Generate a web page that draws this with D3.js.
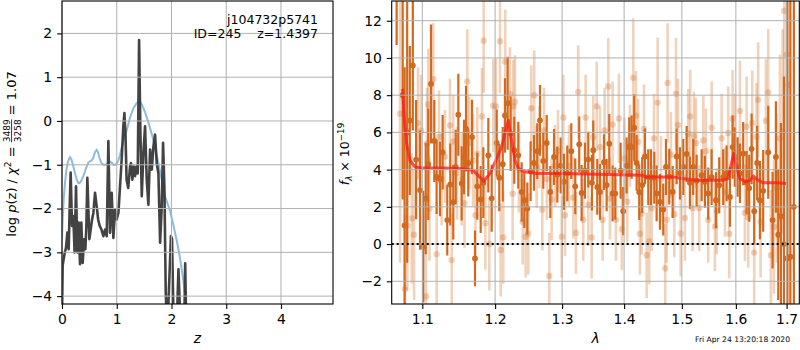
<!DOCTYPE html>
<html><head><meta charset="utf-8">
<script src="https://cdn.jsdelivr.net/npm/d3@7"></script>
<style>body{margin:0;background:#fff}svg{display:block;font-family:"DejaVu Sans",sans-serif}</style>
</head><body><svg id="c" width="800" height="350"></svg>
<script>
// ---------- left panel: p(z) ----------
const priorZ = [0, 0.012, 0.03, 0.055, 0.08, 0.1, 0.125, 0.146, 0.17, 0.207, 0.24, 0.268, 0.3, 0.317, 0.35, 0.39, 0.44, 0.48, 0.51, 0.54, 0.57, 0.6, 0.634, 0.66, 0.683, 0.72, 0.756, 0.8, 0.847, 0.88, 0.908, 0.94, 0.969, 1.0, 1.03, 1.06, 1.09, 1.13, 1.18, 1.243, 1.3, 1.36, 1.408, 1.45, 1.517, 1.58, 1.64, 1.7, 1.761, 1.82, 1.883, 1.93, 1.974, 2.02, 2.065, 2.11, 2.157, 2.2, 2.248, 2.28, 2.32];
const priorLogP = [-2.7, -2.25, -1.8, -1.41, -1.12, -0.98, -0.87, -0.83, -0.87, -1.04, -1.2, -1.34, -1.42, -1.42, -1.37, -1.26, -1.08, -0.95, -0.92, -0.9, -0.85, -0.72, -0.66, -0.72, -0.84, -0.96, -1.0, -1.0, -0.97, -0.93, -0.95, -1.0, -1.0, -0.97, -0.89, -0.78, -0.6, -0.42, -0.22, 0.08, 0.28, 0.4, 0.45, 0.4, 0.2, -0.04, -0.3, -0.6, -0.96, -1.33, -1.72, -1.9, -2.05, -2.3, -2.55, -2.82, -3.14, -3.5, -3.95, -4.3, -4.8];
const pzZ = [0.0, 0.012, 0.024, 0.05, 0.073, 0.098, 0.122, 0.14, 0.158, 0.183, 0.207, 0.23, 0.256, 0.28, 0.305, 0.329, 0.353, 0.378, 0.402, 0.427, 0.445, 0.463, 0.5, 0.524, 0.549, 0.573, 0.603, 0.634, 0.66, 0.69, 0.72, 0.756, 0.786, 0.817, 0.847, 0.877, 0.908, 0.938, 0.969, 0.999, 1.03, 1.06, 1.09, 1.12, 1.14, 1.16, 1.18, 1.21, 1.243, 1.26, 1.286, 1.31, 1.335, 1.36, 1.383, 1.408, 1.432, 1.457, 1.487, 1.517, 1.548, 1.578, 1.609, 1.64, 1.67, 1.7, 1.73, 1.761, 1.792, 1.822, 1.846, 1.87, 1.895, 1.913, 1.94, 1.99, 2.01, 2.035, 2.065, 2.1, 2.127, 2.16, 2.2, 2.236, 2.25, 2.267];
const pzLogP = [-4.5, -3.31, -3.2, -3.01, -2.9, -2.55, -2.93, -2.0, -1.18, -2.4, -2.17, -3.0, -1.49, -3.0, -2.32, -3.27, -2.32, -3.24, -2.7, -2.93, -2.4, -1.3, -2.7, -2.48, -2.25, -2.1, -1.64, -1.95, -2.25, -2.4, -2.48, -2.63, -2.48, -2.63, -0.46, -2.55, -1.64, -2.67, -2.02, -2.25, -2.1, -1.49, -0.88, -0.12, 0.18, -0.35, -1.34, -1.53, -1.04, -0.96, -1.34, -1.04, -1.26, -1.04, -1.2, 1.85, -0.28, -1.72, -0.73, -0.12, -1.34, -1.91, -0.65, -1.11, -0.58, -0.31, -0.96, -1.2, -2.78, -1.95, -0.5, -1.49, -3.92, -4.5, -4.3, -2.63, -2.7, -4.4, -4.5, -4.5, -3.39, -4.5, -4.5, -4.5, -3.25, -4.5];
const zTicks = [0, 1, 2, 3, 4];
const logpTicks = [-4, -3, -2, -1, 0, 1, 2];

// ---------- right panel: spectrum ----------
const darkLam = [1.0668, 1.0745, 1.0770, 1.0803, 1.0837, 1.0876, 1.0919, 1.0970, 1.1013, 1.1045, 1.1079, 1.1115, 1.1159, 1.1190, 1.1235, 1.1271, 1.1333, 1.1374, 1.1415, 1.1448, 1.1484, 1.1530, 1.1562, 1.1590, 1.1621, 1.1673, 1.1715, 1.1747, 1.1795, 1.1832, 1.1903, 1.1951, 1.2023, 1.2060, 1.2110, 1.2142, 1.2181, 1.2225, 1.2278, 1.2337, 1.2387, 1.2426, 1.2471, 1.2520, 1.2570, 1.2620, 1.2661, 1.2711, 1.2763, 1.2818, 1.2875, 1.2926, 1.2978, 1.3029, 1.3081, 1.3143, 1.3206, 1.3269, 1.3307, 1.3360, 1.3413, 1.3472, 1.3493, 1.3558, 1.3602, 1.3667, 1.3711, 1.3754, 1.3809, 1.3852, 1.3942, 1.3985, 1.4042, 1.4086, 1.4126, 1.4170, 1.4211, 1.4255, 1.4306, 1.4353, 1.4410, 1.4456, 1.4514, 1.4555, 1.4612, 1.4670, 1.4718, 1.4776, 1.4836, 1.4907, 1.4966, 1.5025, 1.5086, 1.5145, 1.5205, 1.5267, 1.5359, 1.5419, 1.5480, 1.5543, 1.5624, 1.5685, 1.5760, 1.5824, 1.5887, 1.5938, 1.5982, 1.6034, 1.6078, 1.6141, 1.6207, 1.6257, 1.6304, 1.6354, 1.6413, 1.6466, 1.6531, 1.6631, 1.6718, 1.6784, 1.6831, 1.6885, 1.6946, 1.7013, 1.7077, 1.7148];
const darkFlux = [13.6, 8.0, 1.0, 6.0, 6.64, 9.6, 4.54, 2.9, -0.14, 2.45, 4.29, 8.6, 5.54, 3.61, 3.5, 4.93, 1.29, 3.2, 2.25, 4.14, 6.95, 3.26, 4.68, 6.2, 4.36, 5.75, -0.77, 3.1, 2.4, 3.3, 4.77, 2.46, 5.43, 3.57, 4.29, 6.91, 7.57, 5.93, 5.04, 4.77, 2.8, 2.36, 1.91, 3.92, 4.36, 4.99, 6.65, 4.47, 5.43, 2.8, 4.68, 3.74, 4.22, 3.35, 3.8, 4.99, 3.1, 5.36, 2.75, 3.94, 4.54, 3.3, 5.04, 3.07, 2.8, 4.4, 3.17, 5.39, 2.72, 2.72, 3.94, 1.77, 4.22, 5.21, 5.21, 6.25, 4.36, 2.79, 3.17, 4.71, 3.6, 3.6, 3.56, 2.72, 2.27, 1.86, 4.14, 3.62, 2.8, 4.71, 3.8, 4.14, 4.84, 3.3, 4.14, 3.4, 3.7, 3.35, 2.72, 3.6, 2.36, 3.16, 3.6, 3.8, 2.53, 5.21, 4.68, 4.14, 3.8, 4.86, 3.3, 3.0, 5.12, 1.77, 4.36, 2.36, 2.86, 4.93, 1.29, 4.68, 0.5, 1.5, 0.0, -0.77, -0.68, 2.0];
const darkErr = [2.9, 5.6, 8.5, 7.0, 4.0, 3.5, 3.2, 3.2, 3.0, 3.0, 3.0, 3.2, 2.2, 2.0, 2.0, 2.0, 1.9, 2.2, 2.0, 2.0, 2.2, 2.0, 2.0, 2.3, 1.8, 2.0, 1.5, 1.8, 1.8, 1.9, 2.0, 1.8, 1.8, 1.8, 2.0, 2.0, 2.5, 2.0, 1.8, 1.8, 1.6, 1.5, 1.4, 1.6, 1.5, 1.5, 1.9, 1.5, 1.5, 1.4, 1.5, 1.5, 1.5, 1.5, 1.5, 1.5, 1.5, 1.5, 1.5, 1.5, 1.5, 1.5, 1.6, 1.5, 1.5, 1.5, 1.4, 1.6, 1.5, 1.4, 1.5, 1.3, 1.5, 1.6, 1.7, 1.8, 1.5, 1.5, 1.5, 1.5, 1.5, 1.5, 1.4, 1.5, 1.5, 1.4, 1.5, 1.5, 1.4, 1.5, 1.4, 1.5, 1.5, 1.4, 1.5, 1.4, 1.4, 1.4, 1.4, 1.5, 1.5, 1.5, 1.5, 1.5, 1.6, 1.7, 1.6, 1.6, 1.6, 1.7, 1.7, 1.8, 1.9, 1.8, 2.0, 2.1, 2.2, 2.5, 2.6, 3.0, 3.5, 5.0, 9.0, 14, 15, 16];
const lightLam = [1.0711, 1.0775, 1.0805, 1.0862, 1.0892, 1.0944, 1.0983, 1.1049, 1.1062, 1.1079, 1.1095, 1.1145, 1.1190, 1.1222, 1.1258, 1.1302, 1.1370, 1.1393, 1.1415, 1.1466, 1.1530, 1.1569, 1.1608, 1.1635, 1.1687, 1.1722, 1.1747, 1.1813, 1.1837, 1.1860, 1.1917, 1.1974, 1.2012, 1.2070, 1.2080, 1.2117, 1.2146, 1.2215, 1.2254, 1.2263, 1.2288, 1.2347, 1.2402, 1.2446, 1.2485, 1.2530, 1.2574, 1.2611, 1.2653, 1.2696, 1.2722, 1.2767, 1.2802, 1.2839, 1.2890, 1.2936, 1.2994, 1.3019, 1.3045, 1.3107, 1.3174, 1.3217, 1.3253, 1.3333, 1.3371, 1.3413, 1.3467, 1.3493, 1.3549, 1.3602, 1.3646, 1.3678, 1.3737, 1.3765, 1.3809, 1.3864, 1.3913, 1.3963, 1.4005, 1.4052, 1.4098, 1.4153, 1.4199, 1.4238, 1.4267, 1.4296, 1.4336, 1.4382, 1.4427, 1.4468, 1.4508, 1.4572, 1.4630, 1.4705, 1.4730, 1.4747, 1.4806, 1.4865, 1.4895, 1.4931, 1.4979, 1.5055, 1.5115, 1.5150, 1.5194, 1.5218, 1.5254, 1.5315, 1.5389, 1.5438, 1.5480, 1.5544, 1.5605, 1.5637, 1.5730, 1.5792, 1.5855, 1.5874, 1.5938, 1.5982, 1.6078, 1.6174, 1.6207, 1.6238, 1.6316, 1.6354, 1.6401, 1.6432, 1.6480, 1.6585, 1.6631, 1.6684, 1.6744, 1.6804, 1.6865, 1.6920, 1.6952, 1.7001, 1.7033];
const lightFlux = [7, -2.42, 1.0, 1.38, 0.5, 6.5, 6.1, -2.82, 5.4, 7.5, 1.9, 8.86, -0.54, 5.75, 3.5, 4.7, 6.38, -0.86, 5.52, 3.8, 3.5, 2.2, 8.74, 5.43, 4.5, 1.55, 4.86, 6.86, 10.93, 1.12, 0.0, 7.43, 7.4, 10.9, -0.32, 0.36, 9.8, 8.07, 2.7, 7.4, 7.65, 4.0, 1.2, 0.4, 0.56, 7.3, 8.0, 4.14, 5.2, 1.86, 6.1, 3.5, -1.71, 2.4, 4.2, 5.0, 0.4, 6.8, 1.55, 4.2, 2.5, 0.6, 8.18, 1.3, 6.8, 2.1, 0.35, 5.75, 7.4, 5.21, 1.3, 6.1, 8.47, 2.45, 6.42, 1.3, 6.75, 0.8, 4.6, 2.27, 5.28, 8.93, 6.9, 5.5, 0.56, 1.64, 6.18, -0.6, 0.14, 1.93, 5.68, 7.6, 3.5, -1.3, 1.3, 8.66, 4.8, 1.6, 8.07, 6.4, 0.57, 1.4, 5.93, 6.86, 1.93, 5.79, 5.43, 1.93, 5.57, 4.99, 1.3, 6.25, 0.95, 1.77, 5.68, 2.79, 5.97, 0.56, 6.75, 5.57, 7.15, 1.68, 6.3, 1.43, 6.52, -0.46, 5.75, 7.75, 1.2, 6.63, 8.15, -0.6, 0.93, 3.0, 5.68, 6.04, 12.54, 10.18, 8.55];
const lightErr = [8, 4, 3.5, 3.5, 3.5, 3, 3, 3, 3, 3, 2.8, 3, 2.8, 2.5, 2.5, 2.5, 2.5, 2.5, 2.5, 2.5, 2.5, 2.4, 2.8, 2.5, 2.5, 2.5, 2.5, 2.6, 2.8, 2.5, 2.5, 2.5, 2.6, 2.8, 2.5, 2.5, 2.8, 2.5, 2.5, 2.5, 2.5, 2.3, 2.3, 2.2, 2.2, 2.3, 2.4, 2.2, 2.2, 2.2, 2.3, 2.2, 2.3, 2.2, 2.2, 2.2, 2.2, 2.3, 2.2, 2.2, 2.2, 2.2, 2.5, 2.2, 2.3, 2.2, 2.2, 2.2, 2.4, 2.2, 2.2, 2.3, 2.6, 2.2, 2.3, 2.2, 2.4, 2.2, 2.2, 2.2, 2.2, 3.2, 2.4, 2.3, 2.2, 2.2, 2.4, 2.3, 2.3, 2.3, 2.4, 3.5, 2.3, 2.4, 2.3, 3.2, 2.3, 2.3, 3.0, 2.5, 2.3, 2.3, 2.4, 2.5, 2.3, 2.4, 2.4, 2.3, 2.4, 2.3, 2.3, 2.5, 2.4, 2.3, 2.4, 2.4, 2.5, 2.4, 2.6, 2.5, 2.7, 2.6, 2.7, 2.7, 2.8, 2.8, 2.9, 3.1, 3.0, 3.3, 3.4, 3.5, 3.6, 4.0, 4.5, 5.5, 8, 10, 12];
const modelLam = [1.0745, 1.076, 1.0796, 1.0839, 1.0905, 1.1013, 1.128, 1.155, 1.169, 1.184, 1.1926, 1.2022, 1.2094, 1.2142, 1.219, 1.224, 1.2289, 1.2338, 1.2437, 1.261, 1.3015, 1.353, 1.432, 1.435, 1.4843, 1.5, 1.5267, 1.5757, 1.585, 1.5915, 1.596, 1.6011, 1.6075, 1.62, 1.628, 1.634, 1.641, 1.652, 1.679, 1.70];
const modelFlux = [8.34, 7.0, 5.4, 4.5, 4.14, 4.09, 4.09, 4.05, 3.96, 3.38, 3.79, 4.59, 5.22, 5.93, 6.65, 5.57, 4.5, 4.05, 3.88, 3.79, 3.79, 3.75, 3.7, 3.61, 3.61, 3.52, 3.43, 3.43, 3.52, 4.32, 4.86, 4.14, 3.52, 3.34, 3.43, 3.66, 3.47, 3.3, 3.29, 3.25];
const lamTicks = [1.1, 1.2, 1.3, 1.4, 1.5, 1.6, 1.7];
const fluxTicks = [-2, 0, 2, 4, 6, 8, 10, 12];

const objName = "j104732p5741";
const objInfo = "ID=245    z=1.4397";
const stamp = "Fri Apr 24 13:20:18 2020";

// ---------- drawing ----------
const svg = d3.select('#c');
const FONT = 13.9;
const L = {x0: 62, x1: 333, y0: 1, y1: 304};
const R = {x0: 391.7, x1: 799.3, y0: 1, y1: 304};
const xz = d3.scaleLinear().domain([0, 4.95]).range([L.x0, L.x1]);
const yz = d3.scaleLinear().domain([-4.18, 2.74]).range([L.y1, L.y0]);
const xl = d3.scaleLog().domain([1.0605, 1.726]).range([R.x0, R.x1]);
const yf = d3.scaleLinear().domain([-3.22, 13.06]).range([R.y1, R.y0]);

const defs = svg.append('defs');
defs.append('clipPath').attr('id', 'clipL').append('rect')
  .attr('x', L.x0).attr('y', L.y0).attr('width', L.x1 - L.x0).attr('height', L.y1 - L.y0);
defs.append('clipPath').attr('id', 'clipR').append('rect')
  .attr('x', R.x0).attr('y', R.y0).attr('width', R.x1 - R.x0).attr('height', R.y1 - R.y0);

// Left panel data
const gL = svg.append('g').attr('clip-path', 'url(#clipL)');
gL.append('path')
  .attr('d', d3.line().x((d, i) => xz(priorZ[i])).y(d => yz(d))(priorLogP))
  .attr('fill', 'none').attr('stroke', '#1f77b4').attr('stroke-opacity', 0.5).attr('stroke-width', 2);
gL.append('path')
  .attr('d', d3.line().x((d, i) => xz(pzZ[i])).y(d => yz(d))(pzLogP))
  .attr('fill', 'none').attr('stroke', '#333').attr('stroke-opacity', 0.92).attr('stroke-width', 2.6)
  .attr('stroke-linejoin', 'round');

// Right panel data
const gR = svg.append('g').attr('clip-path', 'url(#clipR)');
const COL = '#d2691e';
function errBars(lam, flux, err, op, r, w) {
  const data = lam.map((l, i) => ({l, f: flux[i], e: err[i]}));
  const g = gR.append('g');
  g.selectAll('line').data(data).enter().append('line')
    .attr('x1', d => xl(d.l)).attr('x2', d => xl(d.l))
    .attr('y1', d => yf(d.f - d.e)).attr('y2', d => yf(d.f + d.e))
    .attr('stroke', COL).attr('stroke-opacity', op).attr('stroke-width', w);
  g.selectAll('circle').data(data).enter().append('circle')
    .attr('cx', d => xl(d.l)).attr('cy', d => yf(d.f)).attr('r', r)
    .attr('fill', COL).attr('fill-opacity', op);
}
errBars(lightLam, lightFlux, lightErr, 0.3, 3.2, 2.6);
errBars(darkLam, darkFlux, darkErr, 1, 2.9, 2.2);
gR.append('path')
  .attr('d', d3.line().x((d, i) => xl(modelLam[i])).y(d => yf(d))(modelFlux))
  .attr('fill', 'none').attr('stroke', '#ff1a1a').attr('stroke-opacity', 0.75).attr('stroke-width', 3)
  .attr('stroke-linejoin', 'round');

// grids (drawn over data, as in the reference)
const grid = svg.append('g').attr('stroke', '#b0b0b0').attr('stroke-width', 1);
zTicks.forEach(t => grid.append('line').attr('x1', xz(t)).attr('x2', xz(t)).attr('y1', L.y0).attr('y2', L.y1));
logpTicks.forEach(t => grid.append('line').attr('y1', yz(t)).attr('y2', yz(t)).attr('x1', L.x0).attr('x2', L.x1));
lamTicks.forEach(t => grid.append('line').attr('x1', xl(t)).attr('x2', xl(t)).attr('y1', R.y0).attr('y2', R.y1));
fluxTicks.forEach(t => grid.append('line').attr('y1', yf(t)).attr('y2', yf(t)).attr('x1', R.x0).attr('x2', R.x1));

// zero line
svg.append('line').attr('x1', R.x0).attr('x2', R.x1).attr('y1', yf(0)).attr('y2', yf(0))
  .attr('stroke', '#000').attr('stroke-width', 2).attr('stroke-dasharray', '2,3');

// axes
function styleAxis(g) {
  g.select('.domain').remove();
  g.selectAll('line').attr('stroke', '#000').attr('stroke-width', 1.1);
  g.selectAll('text').attr('font-size', FONT).attr('font-family', 'DejaVu Sans').attr('fill', '#000');
}
const fmtInt = d => d3.format('d')(d).replace('-', '\u2212');
svg.append('g').attr('transform', `translate(0,${L.y1})`)
  .call(d3.axisBottom(xz).tickValues(zTicks).tickSize(4.9).tickPadding(4.9).tickFormat(fmtInt)).call(styleAxis);
svg.append('g').attr('transform', `translate(${L.x0},0)`)
  .call(d3.axisLeft(yz).tickValues(logpTicks).tickSize(4.9).tickPadding(4.9).tickFormat(fmtInt)).call(styleAxis);
svg.append('g').attr('transform', `translate(0,${R.y1})`)
  .call(d3.axisBottom(xl).tickValues(lamTicks).tickSize(4.9).tickPadding(4.9).tickFormat(d3.format('.1f'))).call(styleAxis);
svg.append('g').attr('transform', `translate(${R.x0},0)`)
  .call(d3.axisLeft(yf).tickValues(fluxTicks).tickSize(4.9).tickPadding(4.9).tickFormat(fmtInt)).call(styleAxis);

// frames
[L, R].forEach(p => svg.append('rect').attr('x', p.x0).attr('y', p.y0)
  .attr('width', p.x1 - p.x0).attr('height', p.y1 - p.y0)
  .attr('fill', 'none').attr('stroke', '#000').attr('stroke-width', 1.1));

// corner text
svg.append('text').attr('x', 318).attr('y', 24).attr('text-anchor', 'end')
  .attr('font-size', 12.5).text(objName);
svg.append('text').attr('x', 318).attr('y', 38.3).attr('text-anchor', 'end')
  .attr('font-size', 12.5).attr('xml:space', 'preserve').style('white-space', 'pre').text(objInfo);

// x labels
svg.append('text').attr('x', (L.x0 + L.x1) / 2).attr('y', 343).attr('text-anchor', 'middle')
  .attr('font-size', FONT).attr('font-style', 'italic').text('z');
svg.append('text').attr('x', (R.x0 + R.x1) / 2).attr('y', 343).attr('text-anchor', 'middle')
  .attr('font-size', FONT).attr('font-style', 'italic').text('λ');

// timestamp
svg.append('text').attr('x', 790).attr('y', 342).attr('text-anchor', 'end')
  .attr('font-size', 7.6).text(stamp);

// math-like rotated y labels
function mathLabel(cx, cy, base, parts) {
  const outer = svg.append('g').attr('transform', `translate(${cx},${cy}) rotate(-90)`);
  const g = outer.append('g');
  let x = 0;
  parts.forEach(p => {
    if (p.frac) {
      const n = g.append('text').attr('x', x).attr('y', p.ny).attr('font-size', p.size).text(p.num);
      const d = g.append('text').attr('x', x).attr('y', p.dy).attr('font-size', p.size).text(p.den);
      const w = Math.max(n.node().getComputedTextLength(), d.node().getComputedTextLength());
      g.append('line').attr('x1', x).attr('x2', x + w).attr('y1', p.bar).attr('y2', p.bar)
        .attr('stroke', '#000').attr('stroke-width', 0.8);
      x += w;
    } else {
      const t = g.append('text').attr('x', x).attr('y', p.y || 0).attr('font-size', p.size || base)
        .attr('font-style', p.it ? 'italic' : 'normal').attr('xml:space', 'preserve')
        .style('white-space', 'pre').text(p.t);
      x += t.node().getComputedTextLength() + (p.gap || 0);
    }
  });
  g.attr('transform', `translate(${-x / 2},0)`);
}
mathLabel(16, 154, 13, [
  {t: 'log '}, {t: 'p', it: true}, {t: '(z) / '}, {t: 'χ', it: true},
  {t: '2', size: 9, y: -5.5}, {t: ' = '},
  {frac: true, num: '3489', den: '3258', size: 9, ny: -6.3, dy: 4.6, bar: -4.4},
  {t: ' = 1.07'}
]);
mathLabel(349, 154, 12.5, [
  {t: 'f', it: true}, {t: 'λ', it: true, size: 8.8, y: 3}, {t: ' × 10'}, {t: '−19', size: 8.8, y: -5.5}
]);
</script></body></html>
